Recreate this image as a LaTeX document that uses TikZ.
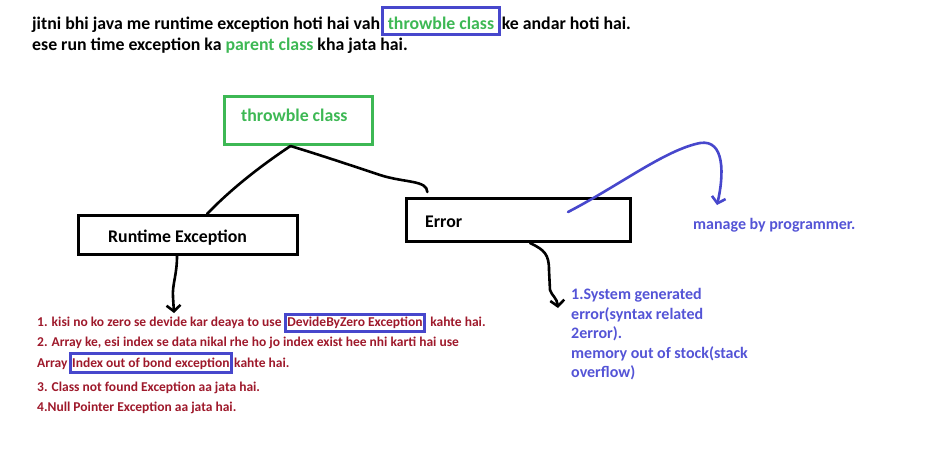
\documentclass[tikz,border=0pt]{standalone}
\usepackage{fontspec}
\setmainfont{Carlito}
\usetikzlibrary{arrows.meta,positioning}
\newlength{\du}
\setlength{\du}{1pt}
\definecolor{txtgreen}{rgb}{0.240000, 0.720000, 0.330000}
\definecolor{boxblue}{rgb}{0.280000, 0.280000, 0.800000}
\definecolor{txtblue}{rgb}{0.330000, 0.330000, 0.840000}
\definecolor{txtred}{rgb}{0.620000, 0.100000, 0.170000}
\tikzset{
  blackbox/.style={draw=black, line width=3\du, inner sep=0pt},
  txt/.style={anchor=base west, inner sep=0pt, font=\bfseries\fontsize{17.8}{21}\selectfont},
  redtxt/.style={txt, text=txtred, font=\bfseries\fontsize{13.5}{16}\selectfont},
  bluetxt/.style={txt, text=txtblue, font=\bfseries\fontsize{16}{19}\selectfont},
  markbox/.style={draw=boxblue, line width=3\du, inner xsep=3\du},
  hand/.style={line width=2.6\du, line cap=round, line join=round},
  handtip/.style={-{Straight Barb[length=6pt,width=14pt]}}
}

\begin{document}
\begin{tikzpicture}
\pgftransformxscale{1.000000}
\pgftransformyscale{-1.000000}
\useasboundingbox (0\du,0\du) rectangle (952\du,456\du);
% heading lines
\node[txt] (headA) at (32\du,29\du){jitni bhi java me runtime exception hoti hai vah};
\node[txt, markbox, text=txtgreen, text height=19\du, text depth=3\du, inner ysep=2.5\du, inner xsep=5\du, xshift=1\du] (headB) at (headA.base east){throwble class};
\node[txt, xshift=1\du] (headC) at (headB.base east){ke andar hoti hai.};
\node[txt] (headD) at (32\du,50\du){ese run time exception ka \textcolor{txtgreen}{parent class} kha jata hai.};
% class boxes
\node[blackbox, draw=txtgreen, minimum width=148\du, minimum height=48\du] (thr) at (298.5\du,120.5\du){};
\node[txt, text=txtgreen] (thrlabel) at (241\du,121\du){throwble class};
\node[blackbox, minimum width=219\du, minimum height=39\du] (rt) at (188\du,235\du){};
\node[txt] (rtlabel) at (108\du,242\du){Runtime Exception};
\node[blackbox, minimum width=224\du, minimum height=43\du] (err) at (518.5\du,220\du){};
\node[txt] (errlabel) at (425\du,227\du){Error};
% hand drawn connectors
\coordinate (rthead) at (174\du,313\du);
\coordinate (errhead) at (558\du,308\du);
\coordinate (mgtail) at (568\du,212\du);
\coordinate (mghead) at (717\du,205\du);
\draw[hand] ([xshift=-8\du]thr.south) .. controls (262\du,165\du) and (232\du,188\du) .. ([xshift=19\du]rt.north);
\draw[hand, shorten >=5\du] ([xshift=-8\du]thr.south) .. controls (320\du,155\du) and (350\du,165\du) .. (380\du,175\du) .. controls (405\du,183\du) and (427\du,180\du) .. ([xshift=-91\du]err.north);
\draw[hand, handtip] ([xshift=-11\du]rt.south) .. controls (177\du,275\du) and (172\du,285\du) .. (173\du,297\du) -- (rthead);
\draw[hand, handtip] ([xshift=11.5\du]err.south) .. controls (545\du,250\du) and (549\du,255\du) .. (549\du,270\du) -- (550\du,290\du) .. controls (552\du,296\du) and (557\du,298\du) .. (errhead);
\draw[hand, handtip, draw=boxblue] (mgtail) .. controls (620\du,185\du) and (665\du,150\du) .. (700\du,143\du) .. controls (725\du,139\du) and (724\du,175\du) .. (mghead);
% notes
\node[bluetxt] (mg) at (693\du,229\du){manage by programmer.};
\node[bluetxt] (sysA) at (571\du,299\du){1.System generated};
\node[bluetxt] (sysB) at (571\du,319\du){error(syntax related};
\node[bluetxt] (sysC) at (571\du,338\du){2error).};
\node[bluetxt] (sysD) at (571\du,358\du){memory out of stock(stack};
\node[bluetxt] (sysE) at (571\du,377\du){overflow)};
\node[redtxt] (exA) at (37\du,326\du){1. kisi no ko zero se devide kar deaya to use};
\node[redtxt, markbox, text height=10\du, text depth=3\du, inner ysep=2\du, inner xsep=2\du, xshift=2\du] (exAbox) at (exA.base east){DevideByZero Exception};
\node[redtxt, xshift=4\du] (exAend) at (exAbox.base east){kahte hai.};
\node[redtxt] (exB) at (37\du,346\du){2. Array ke, esi index se data nikal rhe ho jo index exist hee nhi karti hai use};
\node[redtxt] (exC) at (37\du,367\du){Array};
\node[redtxt, markbox, text height=11\du, text depth=3\du, inner ysep=2.5\du, inner xsep=2\du, xshift=1\du] (exCbox) at (exC.base east){Index out of bond exception};
\node[redtxt, xshift=1\du] (exCend) at (exCbox.base east){kahte hai.};
\node[redtxt] (exD) at (37\du,391\du){3. Class not found Exception aa jata hai.};
\node[redtxt] (exE) at (37\du,411\du){4.Null Pointer Exception aa jata hai.};
\end{tikzpicture}
\end{document}
